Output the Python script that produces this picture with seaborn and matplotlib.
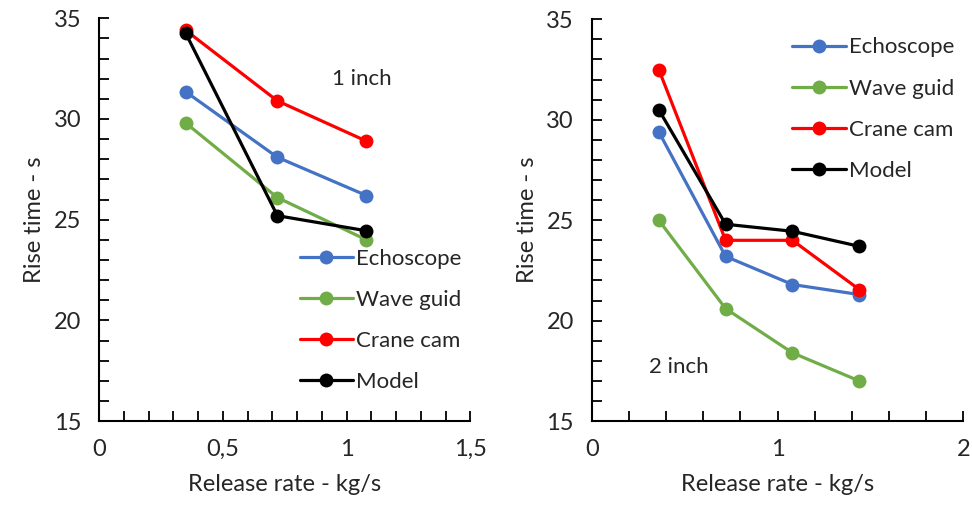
import pandas as pd
import matplotlib
matplotlib.use("Agg")
import matplotlib.pyplot as plt
import seaborn as sns
from matplotlib.ticker import MultipleLocator, FuncFormatter

# Datos
series = ["Echoscope", "Wave guid", "Crane cam", "Model"]
colors = ["#4472C4", "#70AD47", "#FF0000", "#000000"]

x_1in = [0.35, 0.72, 1.08]
echo_1in = [31.35, 28.1, 26.2]
wave_1in = [29.8, 26.1, 24.0]
crane_1in = [34.4, 30.9, 28.9]
model_1in = [34.25, 25.2, 24.45]

x_2in = [0.36, 0.72, 1.08, 1.44]
echo_2in = [29.4, 23.2, 21.8, 21.3]
wave_2in = [25.0, 20.6, 18.4, 17.0]
crane_2in = [32.5, 24.0, 24.0, 21.55]
model_2in = [30.5, 24.8, 24.45, 23.7]


def to_long(x, vals):
    rows = []
    for name, v in zip(series, vals):
        for xi, yi in zip(x, v):
            rows.append({"rate": xi, "rise": yi, "serie": name})
    return pd.DataFrame(rows)


df1 = to_long(x_1in, [echo_1in, wave_1in, crane_1in, model_1in])
df2 = to_long(x_2in, [echo_2in, wave_2in, crane_2in, model_2in])

sns.set_style("ticks")
plt.rcParams["font.family"] = ["Lato", "DejaVu Sans"]

fig = plt.figure(figsize=(9.72, 5.08), dpi=100)
ax1 = fig.add_axes([0.102, 0.171, 0.382, 0.793])
ax2 = fig.add_axes([0.609, 0.171, 0.382, 0.791])

pal = dict(zip(series, colors))


def dibujar(ax, df, xmax, xmaj, xmin_step):
    sns.lineplot(data=df, x="rate", y="rise", hue="serie", palette=pal,
                 hue_order=series, marker="o", markersize=10,
                 markeredgewidth=0, linewidth=2.3, sort=False, ax=ax)
    ax.set_xlim(0, xmax)
    ax.set_ylim(15, 35)
    ax.xaxis.set_major_locator(MultipleLocator(xmaj))
    ax.xaxis.set_minor_locator(MultipleLocator(xmin_step))
    ax.yaxis.set_major_locator(MultipleLocator(5))
    ax.yaxis.set_minor_locator(MultipleLocator(1))
    ax.xaxis.set_major_formatter(FuncFormatter(lambda v, p: f"{v:g}".replace(".", ",")))
    ax.tick_params(which="both", direction="in", length=7, width=1.3,
                   labelsize=17, color="black")
    ax.tick_params(axis="x", which="major", pad=13)
    ax.tick_params(axis="y", which="major", pad=13)
    for s in ["top", "right"]:
        ax.spines[s].set_visible(False)
    for s in ["left", "bottom"]:
        ax.spines[s].set_linewidth(1.5)
        ax.spines[s].set_color("black")
    ax.set_xlabel("Release rate - kg/s", fontsize=17, labelpad=10)
    ax.set_ylabel("Rise time - s", fontsize=17, labelpad=6)


dibujar(ax1, df1, 1.5, 0.5, 0.1)
dibujar(ax2, df2, 2, 1, 0.2)

ax1.legend(frameon=False, fontsize=16, loc="lower right",
           bbox_to_anchor=(1.0, 0.05), handlelength=2.4,
           handletextpad=0.15, labelspacing=0.95, borderaxespad=0)
ax2.legend(frameon=False, fontsize=16, loc="upper right",
           bbox_to_anchor=(1.0, 0.977), handlelength=2.4,
           handletextpad=0.15, labelspacing=0.95, borderaxespad=0)

ax1.text(1.06, 32.0, "1 inch", fontsize=16, ha="center", va="center")
ax2.text(0.47, 17.7, "2 inch", fontsize=16, ha="center", va="center")

fig.savefig("out.png", dpi=100)
